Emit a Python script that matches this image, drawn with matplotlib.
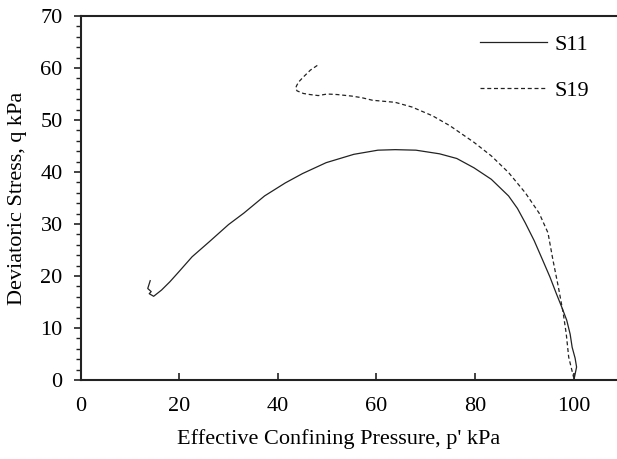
import matplotlib
matplotlib.use("Agg")
import matplotlib.pyplot as plt
from matplotlib.ticker import MultipleLocator

# S11 (solid)
s11_p = [14.1, 13.6, 14.3, 13.9, 14.8, 16.4, 18.1, 19.9, 22.6, 26.1, 30.0, 33.1, 37.3,
         41.5, 45.0, 49.8, 55.4, 60.3, 63.8, 68.0, 72.8, 76.3, 79.8, 83.3, 86.8,
         88.6, 90.2, 92.0, 93.7, 95.2, 96.5, 97.6, 98.6, 99.3, 99.7, 100.3, 100.6, 100.1]
s11_q = [19.1, 17.6, 17.0, 16.6, 16.1, 17.3, 18.9, 20.8, 23.7, 26.6, 29.9, 32.1, 35.4,
         37.9, 39.7, 41.8, 43.4, 44.2, 44.3, 44.2, 43.5, 42.6, 40.8, 38.6, 35.4,
         33.0, 30.2, 26.8, 23.1, 19.8, 16.6, 14.0, 11.5, 8.8, 6.3, 4.2, 2.5, 0.2]

# S19 (dashed)
s19_p = [48.0, 46.6, 45.2, 44.2, 43.8, 43.6, 43.9, 45.2, 46.5, 48.2, 50.0, 52.0, 55.0,
         57.0, 59.2, 61.5, 63.8, 67.2, 71.4, 74.9, 79.8, 83.3, 86.8, 90.2, 93.0,
         94.8, 95.8, 96.9, 97.9, 98.5, 99.0, 100.0]
s19_q = [60.5, 59.6, 58.3, 57.3, 56.6, 56.1, 55.6, 55.1, 54.9, 54.7, 55.0, 54.9, 54.6,
         54.3, 53.8, 53.6, 53.4, 52.5, 50.8, 48.9, 45.7, 43.1, 39.9, 36.0, 32.1,
         28.3, 23.1, 17.9, 12.8, 8.9, 4.4, 0.5]

labels = ["S11", "S19"]
x_ticks = [0, 20, 40, 60, 80, 100]
y_ticks = [0, 10, 20, 30, 40, 50, 60, 70]

plt.rcParams['font.family'] = ['Liberation Serif', 'DejaVu Serif']

fig = plt.figure(figsize=(6.17, 4.59), dpi=100)
ax = fig.add_axes([0.1308, 0.1721, 0.8692, 0.7930])

ax.plot(s11_p, s11_q, color='#222222', lw=0.9, label=labels[0])
ax.plot(s19_p, s19_q, color='#222222', lw=0.9, ls=(0, (3.2, 2.2)), label=labels[1])

ax.set_xlim(0, 108.8)
ax.set_ylim(0, 70)
ax.set_xticks(x_ticks)
ax.set_yticks(y_ticks)
ax.yaxis.set_minor_locator(MultipleLocator(2))

ax.spines['right'].set_visible(False)
for s in ['left', 'bottom', 'top']:
    ax.spines[s].set_linewidth(1.5)
    ax.spines[s].set_color('#222222')

ax.tick_params(axis='x', direction='in', length=5, width=1.2, pad=12, labelsize=16, colors='#222222', labelcolor='black')
ax.tick_params(axis='y', which='major', direction='out', length=5, width=1.2, pad=8, labelsize=16, colors='#222222', labelcolor='black')
ax.tick_params(axis='y', which='minor', direction='out', length=3.5, width=1.0, colors='#222222')

ax.set_xlabel("Effective Confining Pressure, p' kPa", fontsize=16)
ax.xaxis.set_label_coords(0.48, -0.135)
ax.set_ylabel("Deviatoric Stress, q kPa", fontsize=16, labelpad=10)

leg = ax.legend(loc='upper right', frameon=False, fontsize=16, handlelength=3.0,
                handletextpad=0.35, labelspacing=1.15, bbox_to_anchor=(0.985, 1.005))

fig.savefig("out.png", dpi=100)
